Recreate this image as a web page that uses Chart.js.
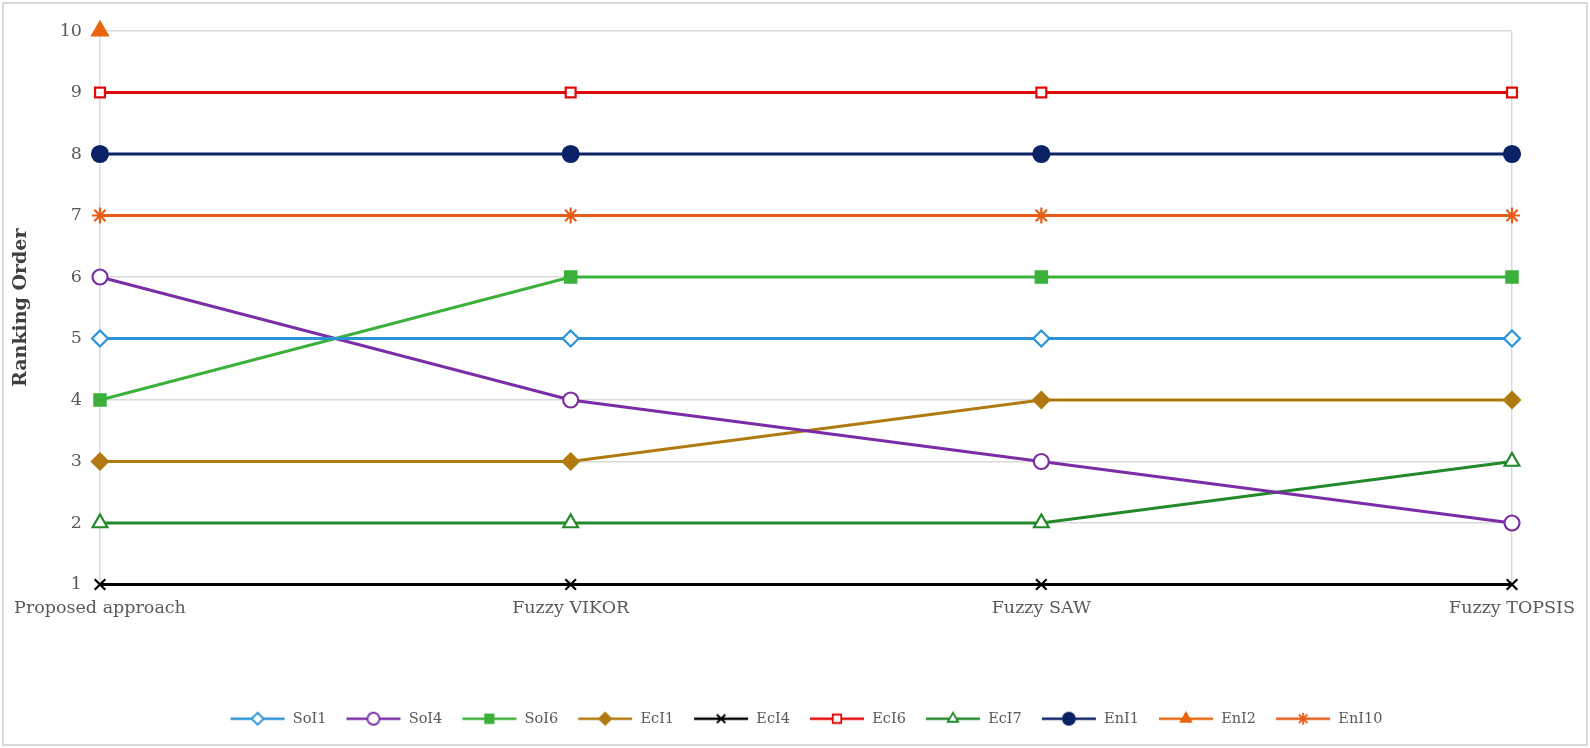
<!DOCTYPE html>
<html>
<head>
<meta charset="utf-8">
<script src="https://cdn.jsdelivr.net/npm/chart.js@4.4.0/dist/chart.umd.min.js"></script>
<style>
  html, body { margin: 0; padding: 0; background: #fff; }
  #wrap { width: 1590px; height: 748px; position: relative; }
</style>
</head>
<body>
<div id="wrap"><canvas id="rankChart" width="1590" height="748"></canvas></div>
<script>
const methods = ["Proposed approach", "Fuzzy VIKOR", "Fuzzy SAW", "Fuzzy TOPSIS"];
const yTicks = [1, 2, 3, 4, 5, 6, 7, 8, 9, 10];

const soi1 = [5, 5, 5, 5];
const soi4 = [6, 4, 3, 2];
const soi6 = [4, 6, 6, 6];
const eci1 = [3, 3, 4, 4];
const eci4 = [1, 1, 1, 1];
const eci6 = [9, 9, 9, 9];
const eci7 = [2, 2, 2, 3];
const eni1 = [8, 8, 8, 8];
const eni2 = [10, null, null, null];
const eni10 = [7, 7, 7, 7];

const FONT = "'DejaVu Serif', serif";
const TEXT = "#595959";
const GRID = "#d9d9d9";

function series(label, data, color, style, radius, filled) {
  return {
    label: label,
    data: data,
    borderColor: color,
    backgroundColor: filled ? color : "#ffffff",
    borderWidth: 3,
    pointStyle: style,
    pointRadius: radius,
    pointHoverRadius: radius,
    pointBorderWidth: 2.2,
    pointBorderColor: color,
    pointBackgroundColor: filled ? color : "#ffffff",
    tension: 0,
    spanGaps: false,
    clip: false
  };
}

const datasets = [
  series("SoI1", soi1, "#2a93d5", "rectRot", 8, false),
  series("SoI4", soi4, "#7a2da6", "circle", 7.5, false),
  series("SoI6", soi6, "#3bb03a", "rect", 8, true),
  series("EcI1", eci1, "#b07a10", "rectRot", 8, true),
  series("EcI4", eci4, "#000000", "crossRot", 7.5, false),
  series("EcI6", eci6, "#e00a0a", "rect", 7, false),
  series("EcI7", eci7, "#23892a", "triangle", 8.5, false),
  series("EnI1", eni1, "#0c2266", "circle", 8, true),
  series("EnI2", eni2, "#e8660e", "triangle", 9, true),
  series("EnI10", eni10, "#e85c1a", "star", 8, false)
];

// legend sample: short line with the marker in its middle
function legendIcon(ds) {
  const c = document.createElement("canvas");
  c.width = 56; c.height = 18;
  const ctx = c.getContext("2d");
  ctx.strokeStyle = ds.borderColor;
  ctx.lineWidth = 2.5;
  ctx.beginPath();
  ctx.moveTo(1, 9); ctx.lineTo(55, 9);
  ctx.stroke();
  ctx.fillStyle = ds.pointBackgroundColor;
  ctx.strokeStyle = ds.borderColor;
  ctx.lineWidth = 1.8;
  Chart.helpers.drawPoint(ctx, {
    pointStyle: ds.pointStyle,
    radius: Math.min(ds.pointRadius, 6),
    rotation: 0,
    borderWidth: 1.8
  }, 28, 9);
  return c;
}

const frame = {
  id: "frame",
  beforeDraw(chart) {
    const ctx = chart.ctx;
    ctx.save();
    ctx.fillStyle = "#fff";
    ctx.fillRect(0, 0, chart.width, chart.height);
    ctx.strokeStyle = GRID;
    ctx.lineWidth = 2;
    ctx.strokeRect(3, 3, chart.width - 6, chart.height - 6);
    ctx.restore();
  }
};

new Chart(document.getElementById("rankChart"), {
  type: "line",
  data: { labels: methods, datasets: datasets },
  plugins: [frame],
  options: {
    responsive: false,
    animation: false,
    layout: { padding: { left: 0, right: 78, top: 31, bottom: 12 } },
    scales: {
      x: {
        offset: false,
        grid: {
          color: ctx => (ctx.index === 0 || ctx.index === methods.length - 1) ? GRID : "rgba(0,0,0,0)",
          lineWidth: 1.5,
          drawTicks: false
        },
        border: { display: false },
        ticks: { color: TEXT, font: { family: FONT, size: 17.5 }, padding: 13, maxRotation: 0, autoSkip: false },
        afterFit: s => { s.height = 108; }
      },
      y: {
        min: 1,
        max: 10,
        afterBuildTicks: s => { s.ticks = yTicks.map(v => ({ value: v })); },
        grid: { color: GRID, lineWidth: 1.5, drawTicks: false },
        border: { display: false },
        ticks: { color: TEXT, font: { family: FONT, size: 17.5 }, padding: 18 },
        title: {
          display: true,
          text: "Ranking Order",
          color: "#404040",
          font: { family: FONT, size: 19, weight: "bold" },
          padding: { top: 10, bottom: 0 }
        },
        afterFit: s => { s.width = 100; }
      }
    },
    plugins: {
      tooltip: { enabled: false },
      legend: {
        position: "bottom",
        fullSize: false,
        labels: {
          usePointStyle: true,
          pointStyleWidth: 56,
          padding: 19,
          color: TEXT,
          font: { family: FONT, size: 14.5 },
          generateLabels: chart => chart.data.datasets.map((ds, i) => ({
            text: ds.label,
            pointStyle: legendIcon(ds),
            fillStyle: ds.borderColor,
            strokeStyle: ds.borderColor,
            lineWidth: 0,
            fontColor: TEXT,
            hidden: false,
            datasetIndex: i
          }))
        }
      }
    }
  }
});
</script>
</body>
</html>
